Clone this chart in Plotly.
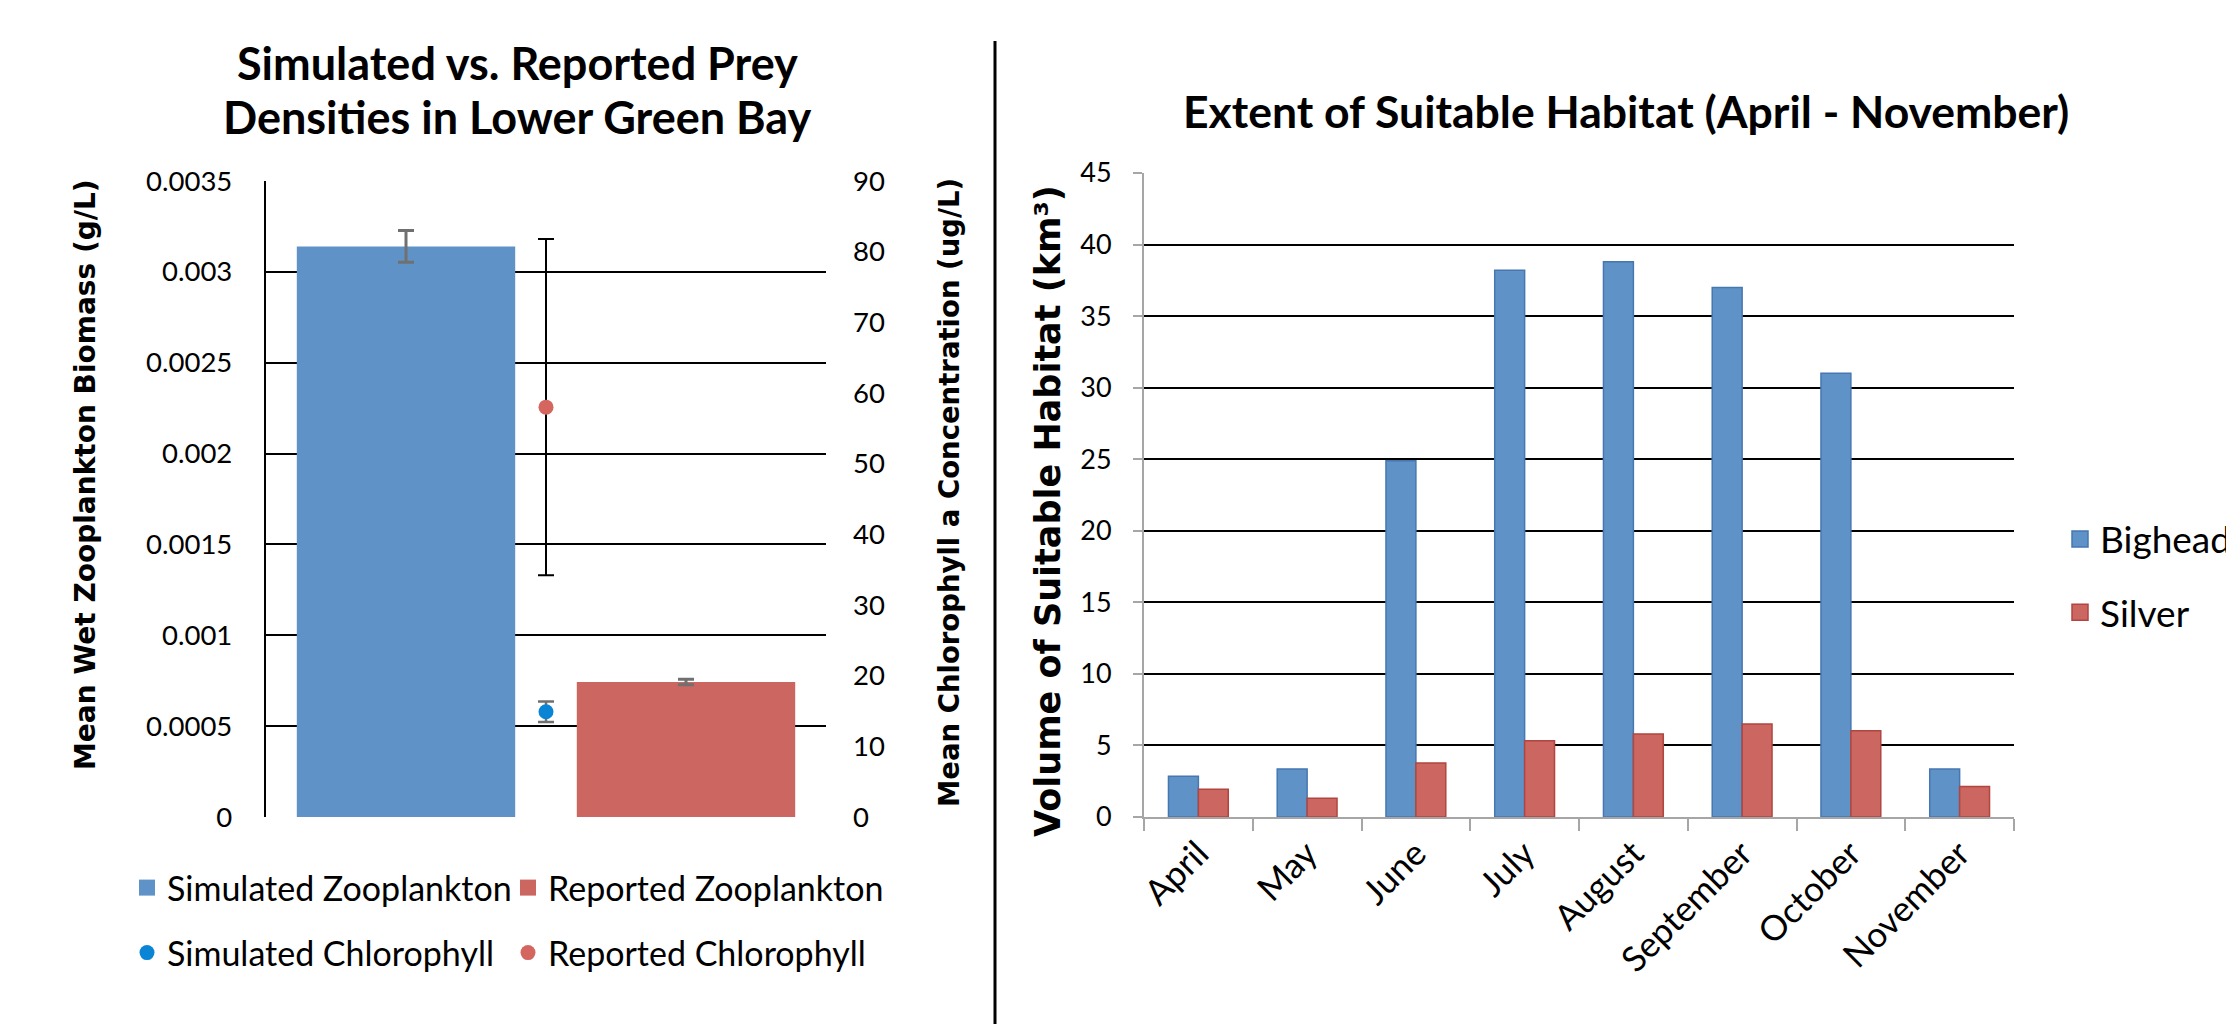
import plotly.graph_objects as go

W, H = 2234, 1024
OFF = 8  # page body margin offset

# ---------------- Left chart data ----------------
zoo_names = ["Simulated Zooplankton", "Reported Zooplankton"]
zoo_values = [0.00314, 0.000743]
zoo_errors = [0.000087, 0.000015]
zoo_x = [0.5, 1.5]
zoo_colors = ["#5f93c8", "#cc6660"]

chl_names = ["Simulated Chlorophyll", "Reported Chlorophyll"]
chl_values = [14.9, 58.0]
chl_errors = [1.45, 23.8]
chl_x = [1.0, 1.0]
chl_colors = ["#0a84d4", "#d5665f"]
chl_err_colors = ["#707070", "#000000"]
chl_err_widths = [2.5, 2]

left_tickvals = [0, 0.0005, 0.001, 0.0015, 0.002, 0.0025, 0.003, 0.0035]
left_ticktext = ["0", "0.0005", "0.001", "0.0015", "0.002", "0.0025", "0.003", "0.0035"]
right_tickvals = [0, 10, 20, 30, 40, 50, 60, 70, 80, 90]

# ---------------- Right chart data ----------------
months = ["April", "May", "June", "July", "August", "September", "October", "November"]
bighead = [2.85, 3.35, 24.9, 38.2, 38.8, 37.0, 31.0, 3.35]
silver = [1.94, 1.31, 3.77, 5.33, 5.8, 6.5, 6.03, 2.13]
species = ["Bighead", "Silver"]
species_fill = ["#5f93c8", "#cc6660"]
species_edge = ["#4677b0", "#b0463f"]


def px(x):
    return (x - OFF) / W


def py(y):
    return 1 - (y - OFF) / H


CAL = "Lato, 'Open Sans', sans-serif"
VER = "'DejaVu Sans', Verdana, sans-serif"

fig = go.Figure()

# Zooplankton bars (left chart)
for name, v, e, x, c in zip(zoo_names, zoo_values, zoo_errors, zoo_x, zoo_colors):
    fig.add_trace(go.Bar(
        x=[x], y=[v], name=name, width=[0.78], offset=-0.39,
        marker=dict(color=c, line=dict(width=0)),
        error_y=dict(type="data", array=[e], color="#707070", thickness=3, width=8),
        xaxis="x", yaxis="y", showlegend=False,
    ))
    # legend entry with a larger square symbol
    fig.add_trace(go.Scatter(
        x=[None], y=[None], name=name, mode="markers",
        marker=dict(color=c, size=16, symbol="square", line=dict(width=0)),
        xaxis="x", yaxis="y", legend="legend",
    ))

# Chlorophyll points (left chart, secondary axis)
for name, v, e, x, c, ec, ew in zip(chl_names, chl_values, chl_errors, chl_x, chl_colors,
                                    chl_err_colors, chl_err_widths):
    fig.add_trace(go.Scatter(
        x=[x], y=[v], name=name, mode="markers",
        marker=dict(color=c, size=15, symbol="circle"),
        error_y=dict(type="data", array=[e], color=ec, thickness=ew, width=8),
        xaxis="x", yaxis="y2", legend="legend2",
    ))

# Habitat bars (right chart)
for name, vals, fc, lc, grp in zip(species, [bighead, silver], species_fill, species_edge, ["a", "b"]):
    fig.add_trace(go.Bar(
        x=months, y=vals, name=name,
        marker=dict(color=fc, line=dict(color=lc, width=1.5)),
        xaxis="x3", yaxis="y3", showlegend=False,
    ))
    fig.add_trace(go.Scatter(
        x=[None], y=[None], name=name, mode="markers",
        marker=dict(color=fc, size=16, symbol="square", line=dict(color=lc, width=1.5)),
        xaxis="x3", yaxis="y3", legend="legend3", legendgroup=grp,
    ))

fig.update_layout(
    width=W, height=H,
    margin=dict(l=0, r=0, t=0, b=0, autoexpand=False),
    paper_bgcolor="white", plot_bgcolor="white",
    barmode="group", bargap=0.45, bargroupgap=0,
    showlegend=True,
    font=dict(family=CAL, color="black"),
    xaxis=dict(
        domain=[px(266), px(826)], range=[0, 2], anchor="y",
        showgrid=False, zeroline=False, showticklabels=False, ticks="", showline=False,
    ),
    yaxis=dict(
        domain=[py(817), py(181)], range=[0, 0.0035], anchor="x",
        tickvals=left_tickvals, ticktext=left_ticktext,
        showgrid=True, gridcolor="black", gridwidth=2.4, zeroline=False,
        showline=True, linecolor="black", linewidth=2.4, ticks="",
        tickfont=dict(family=CAL, size=27.5, color="black"), ticklabelstandoff=26,
    ),
    yaxis2=dict(
        overlaying="y", side="right", anchor="x", range=[0, 90],
        tickvals=right_tickvals, showgrid=False, zeroline=False, showline=False, ticks="",
        tickfont=dict(family=CAL, size=27.5, color="black"), ticklabelstandoff=26,
    ),
    xaxis3=dict(
        domain=[px(1144), px(2014)], anchor="y3", type="category",
        showgrid=False, zeroline=False,
        showline=True, linecolor="#a6a6a6", linewidth=2,
        ticks="outside", tickson="boundaries", ticklen=12, tickcolor="#a6a6a6", tickwidth=2,
        tickangle=-45, tickfont=dict(family=CAL, size=35, color="black"),
    ),
    yaxis3=dict(
        domain=[py(817), py(173)], anchor="x3", range=[0, 45], dtick=5,
        showgrid=True, gridcolor="black", gridwidth=2.4, zeroline=False,
        showline=True, linecolor="#a6a6a6", linewidth=2,
        ticks="outside", ticklen=9, tickcolor="#a6a6a6", tickwidth=2,
        tickfont=dict(family=CAL, size=27, color="black"), ticklabelstandoff=16,
    ),
    legend=dict(
        orientation="h", x=px(127), xanchor="left", y=py(888), yanchor="middle",
        font=dict(family=CAL, size=34, color="black"), entrywidth=336,
        bgcolor="rgba(0,0,0,0)", traceorder="normal",
    ),
    legend2=dict(
        orientation="h", x=px(127), xanchor="left", y=py(953), yanchor="middle",
        font=dict(family=CAL, size=34, color="black"), entrywidth=336,
        bgcolor="rgba(0,0,0,0)", traceorder="normal",
    ),
    legend3=dict(
        orientation="v", x=px(2060), xanchor="left", y=py(576), yanchor="middle",
        font=dict(family=CAL, size=37, color="black"), tracegroupgap=22,
        bgcolor="rgba(0,0,0,0)", traceorder="grouped",
    ),
    annotations=[
        dict(text="<b>Simulated vs. Reported Prey</b>",
             x=px(517), y=py(63), xref="paper", yref="paper", xanchor="center", yanchor="middle",
             showarrow=False, font=dict(family=CAL, size=45, color="black")),
        dict(text="<b>Densities in Lower Green Bay</b>",
             x=px(517), y=py(117), xref="paper", yref="paper", xanchor="center", yanchor="middle",
             showarrow=False, font=dict(family=CAL, size=45, color="black")),
        dict(text="<b>Extent of Suitable Habitat (April - November)</b>",
             x=px(1626), y=py(110), xref="paper", yref="paper", xanchor="center", yanchor="middle",
             showarrow=False, font=dict(family=CAL, size=44.5, color="black")),
        dict(text="<b>Mean Wet Zooplankton Biomass (g/L)</b>", textangle=-90,
             x=px(85), y=py(475), xref="paper", yref="paper", xanchor="center", yanchor="middle",
             showarrow=False, font=dict(family=VER, size=28, color="black")),
        dict(text="<b>Mean Chlorophyll a Concentration (ug/L)</b>", textangle=-90,
             x=px(949), y=py(493), xref="paper", yref="paper", xanchor="center", yanchor="middle",
             showarrow=False, font=dict(family=VER, size=27.5, color="black")),
        dict(text="<b>Volume of Suitable Habitat (km³)</b>", textangle=-90,
             x=px(1048), y=py(511), xref="paper", yref="paper", xanchor="center", yanchor="middle",
             showarrow=False, font=dict(family=VER, size=35, color="black")),
    ],
    shapes=[
        dict(type="line", xref="paper", yref="paper",
             x0=px(995), x1=px(995), y0=py(41), y1=py(1040),
             line=dict(color="black", width=3)),
    ],
)

fig.write_html("out.html")
